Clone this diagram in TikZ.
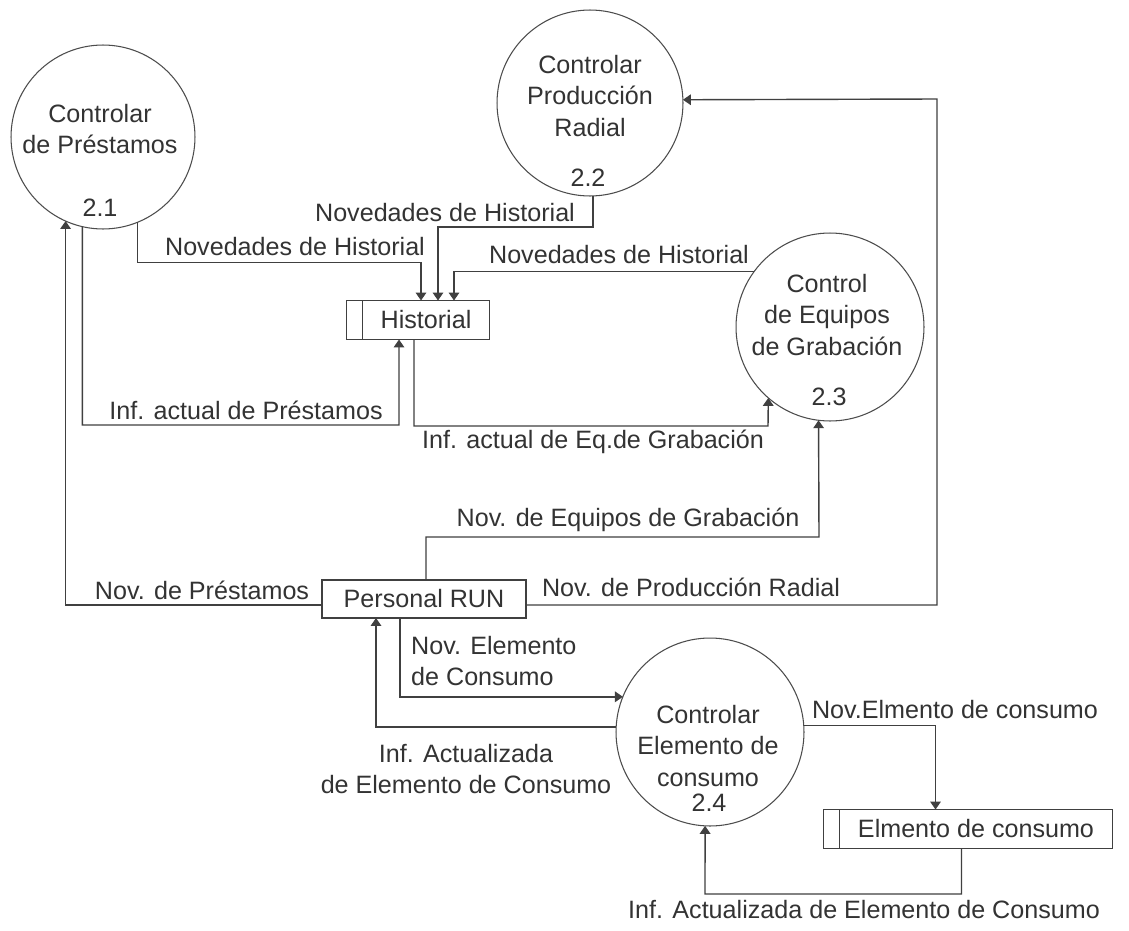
\documentclass[tikz,border=0pt]{standalone}
\usepackage{fontspec}
\setmainfont{Liberation Sans}
\usetikzlibrary{positioning,arrows.meta}
\tikzset{
	>={Triangle[length=4.5pt,width=6pt]},
	proc/.style={draw=black!70, line width=0.6pt, circle, minimum size=#1, inner sep=0pt, outer sep=0pt},
	store/.style={draw=black!75, line width=0.8pt, rectangle, minimum height=0.78cm, inner sep=0pt, outer sep=0pt,
		path picture={\draw[black!75, line width=0.8pt] ([xshift=0.32cm]path picture bounding box.north west) -- ([xshift=0.32cm]path picture bounding box.south west);}},
	ext/.style={draw=black!75, line width=0.8pt, rectangle, minimum width=4.08cm, minimum height=0.76cm, inner sep=0pt, outer sep=0pt},
	flow/.style={->, draw=black!75, line width=0.8pt},
}

\begin{document}
\begin{tikzpicture}[x=0.02cm, y=-0.02cm, every node/.style={font=\fontsize{14.3}{18}\selectfont, text=black!80}]
	\fill[white] (0,0) rectangle (1129,930);
	\useasboundingbox (0,0) rectangle (1129,930);

	% procesos
	\node[proc=3.68cm] (p21) at (103,137) {};
	\node[proc=3.72cm] (p22) at (590,103) {};
	\node[proc=3.76cm] (p23) at (830,327) {};
	\node[proc=3.76cm] (p24) at (710,732) {};

	\node[align=center] (t21) at (100,129) {Controlar\\de Préstamos};
	\node (n21) at (100,208) {2.1};
	\node[align=center] (t22) at (590,96) {Controlar\\Producción\\Radial};
	\node (n22) at (588,178) {2.2};
	\node[align=center] (t23) at (827,315) {Control\\de Equipos\\de Grabación};
	\node (n23) at (829,397) {2.3};
	\node[align=center] (t24) at (708,746) {Controlar\\Elemento de\\consumo};
	\node (n24) at (709,803) {2.4};

	% almacenes y entidad
	\node[store, minimum width=2.86cm] (hist) at (418,320) {\hspace*{0.32cm}Historial};
	\node[store, minimum width=5.78cm] (elem) at (968,829) {\hspace*{0.32cm}Elmento de consumo};
	\node[ext] (pers) at (424,599) {Personal RUN};

	% flujos
	\draw[flow] (p21.-68) -- ++(0,40) -| ([xshift=0.06cm]hist.north);
	\draw[flow] ([xshift=0.06cm]p22.south) -- ++(0,31) -| ([xshift=0.4cm]hist.north);
	\draw[flow] (p23.144) -| ([xshift=0.72cm]hist.north);
	\draw[flow] (p21.-103) |- (399,425) -- ([xshift=-0.38cm]hist.south);
	\draw[flow] ([xshift=-0.08cm]hist.south) |- (768,426) -- (p23.-131);
	\draw[flow] ([xshift=0.04cm]pers.north) |- (819,537) -- (p23.-97);
	\draw[flow] ([yshift=-0.12cm]pers.west) -| (p21.-114);
	\draw[flow] ([yshift=-0.12cm]pers.east) -| (937,99) -- (p22.2);
	\draw[flow] ([xshift=-0.48cm]pers.south) |- (p24.158);
	\draw[flow] (p24.177) -| ([xshift=-0.96cm]pers.south);
	\draw[flow] (p24.4) -| ([xshift=-0.65cm]elem.north);
	\draw[flow] ([xshift=-0.13cm]elem.south) |- (705,894) -- (p24.-93);

	% etiquetas
	\node (l1) at (295,247) {Novedades de Historial};
	\node (l2) at (445,213) {Novedades de Historial};
	\node (l3) at (619,255) {Novedades de Historial};
	\node (l4) at (246,410) {Inf. actual de Préstamos};
	\node (l5) at (593,442) {Inf. actual de Eq.de Grabación};
	\node (l6) at (628,520) {Nov. de Equipos de Grabación};
	\node (l7) at (202,590) {Nov. de Préstamos};
	\node (l8) at (691,587) {Nov. de Producción Radial};
	\node[align=left, anchor=west] (l9) at (405,661) {Nov. Elemento\\de Consumo};
	\node[align=center] (l10) at (466,769) {Inf. Actualizada\\de Elemento de Consumo};
	\node (l11) at (955,710) {Nov.Elmento de consumo};
	\node (l12) at (864,910) {Inf. Actualizada de Elemento de Consumo};
\end{tikzpicture}
\end{document}
